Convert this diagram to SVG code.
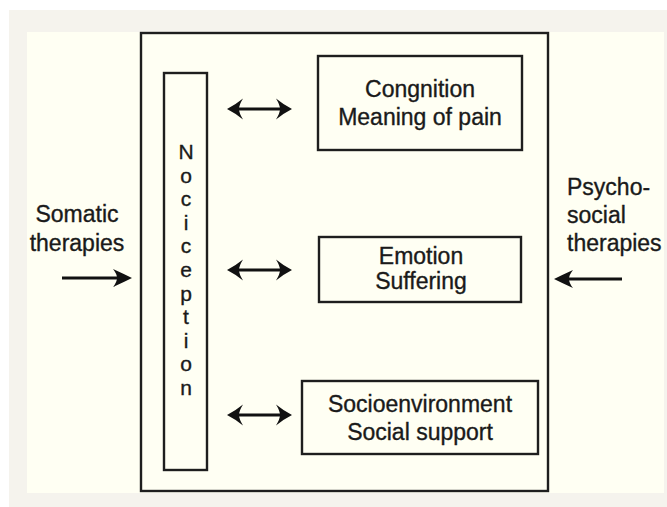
<svg xmlns="http://www.w3.org/2000/svg" width="667" height="507" viewBox="0 0 667 507">
<style>
text{font-family:"Liberation Sans",Arial,sans-serif;font-size:23px;fill:#1a1a1a;stroke:#1a1a1a;stroke-width:0.35}
.box{fill:#fffff3;stroke:#1e1e1e;stroke-width:2.4}
.ln{stroke:#111;stroke-width:2.8;fill:none}
.hd{fill:#111}
.noc text{font-size:21px;text-anchor:middle}
.c{text-anchor:middle}
</style>
<defs>
<path id="dbl" class="hd" d="M0,0 Q8,-4 16,-10.5 Q12,-4 12,0 Q12,4 16,10.5 Q8,4 0,0 Z M65,0 Q57,-4 49,-10.5 Q53,-4 53,0 Q53,4 49,10.5 Q57,4 65,0 Z"/>
</defs>
<rect x="0" y="0" width="667" height="507" fill="#ffffff"/>
<rect x="9" y="10" width="658" height="497" fill="#f5f3ed"/>
<rect x="27" y="32" width="637" height="461" fill="#fffff3"/>
<g id="main"><rect class="box" x="141" y="33" width="407" height="458" stroke-width="2.8"/></g>
<g id="nociception" class="noc">
<rect class="box" x="164" y="73" width="43" height="397"/>
<text x="186" y="159">N</text>
<text x="186" y="183">o</text>
<text x="186" y="206">c</text>
<text x="186" y="230">i</text>
<text x="186" y="253">c</text>
<text x="186" y="277">e</text>
<text x="186" y="301">p</text>
<text x="186" y="324">t</text>
<text x="186" y="348">i</text>
<text x="186" y="371">o</text>
<text x="186" y="395">n</text>
</g>
<g id="cognition">
<rect class="box" x="318" y="56" width="204" height="94"/>
<text class="c" x="420" y="97">Congnition</text>
<text class="c" x="420" y="125">Meaning of pain</text>
</g>
<g id="emotion">
<rect class="box" x="319" y="237" width="202" height="65"/>
<text class="c" x="421" y="264">Emotion</text>
<text class="c" x="421" y="289">Suffering</text>
</g>
<g id="socio">
<rect class="box" x="302" y="381" width="236" height="73"/>
<text class="c" x="420" y="412">Socioenvironment</text>
<text class="c" x="420" y="440">Social support</text>
</g>
<g id="somatic">
<text class="c" x="77" y="222">Somatic</text>
<text class="c" x="77" y="251">therapies</text>
</g>
<g id="psychosocial">
<text x="567" y="195">Psycho-</text>
<text x="567" y="223">social</text>
<text x="567" y="251">therapies</text>
</g>
<g id="connectors">
<line class="ln" x1="236" y1="109" x2="283" y2="109"/>
<use href="#dbl" x="227" y="109"/>
<line class="ln" x1="236" y1="270" x2="283" y2="270"/>
<use href="#dbl" x="227" y="270"/>
<line class="ln" x1="236" y1="415" x2="283" y2="415"/>
<use href="#dbl" x="227" y="415"/>
<line class="ln" x1="62" y1="278" x2="120" y2="278"/>
<path class="hd" d="M132,278 Q124,274 113,269 Q117,274 117,278 Q117,282 113,287 Q124,282 132,278 Z"/>
<line class="ln" x1="566" y1="279" x2="622" y2="279"/>
<path class="hd" d="M554,279 Q562,275 573,270 Q569,275 569,279 Q569,283 573,288 Q562,283 554,279 Z"/>
</g>
</svg>
